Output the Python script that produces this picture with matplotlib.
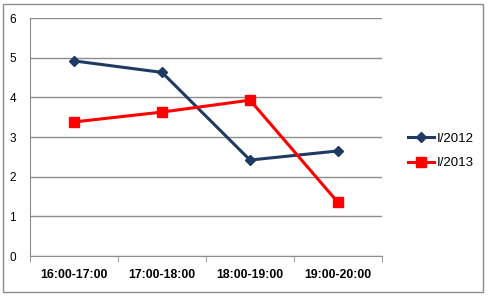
import matplotlib.pyplot as plt
import numpy as np
from matplotlib.patches import Rectangle

categories = ['16:00-17:00', '17:00-18:00', '18:00-19:00', '19:00-20:00']
series_2012 = [4.92, 4.63, 2.42, 2.65]
series_2013 = [3.38, 3.63, 3.93, 1.35]
labels = ['I/2012', 'I/2013']

plt.rcParams['font.family'] = ['Liberation Sans', 'DejaVu Sans']

fig = plt.figure(figsize=(4.89, 2.96), dpi=100)
ax = fig.add_axes([0.0613, 0.135, 0.72, 0.804])

# outer chart border
fig.patches.append(Rectangle((3 / 489, 4 / 296), 480 / 489, 288 / 296, transform=fig.transFigure,
                             fill=False, edgecolor='#8c8c8c', linewidth=1))

x = np.arange(len(categories))
l1, = ax.plot(x, series_2012, color='#1F3B63', linewidth=2.2, marker='D', markersize=5.5,
              label=labels[0])
l2, = ax.plot(x, series_2013, color='#FF0000', linewidth=2.2, marker='s', markersize=7,
              label=labels[1])

ax.set_xlim(-0.5, len(categories) - 0.5)
ax.set_ylim(0, 6)
ax.set_yticks(range(0, 7))
ax.yaxis.grid(True, color='#8c8c8c', linewidth=1)
ax.set_axisbelow(True)

ax.set_xticks(x)
ax.set_xticklabels(categories, fontweight='bold', fontsize=8.8)
ax.tick_params(axis='x', which='major', length=0, pad=9)
ax.set_xticks(np.arange(-0.5, len(categories)), minor=True)
ax.tick_params(axis='x', which='minor', length=4, color='#8c8c8c', direction='out')
ax.tick_params(axis='y', length=0, labelsize=8.5, pad=10)

for s in ['top', 'right']:
    ax.spines[s].set_visible(False)
for s in ['left', 'bottom']:
    ax.spines[s].set_color('#8c8c8c')

fig.legend(handles=[l1, l2], loc='center left', bbox_to_anchor=(0.81, 0.49), frameon=False,
           fontsize=9.5, handlelength=2.0, handletextpad=0.15, labelspacing=0.9)

plt.savefig('out.png', dpi=100)
